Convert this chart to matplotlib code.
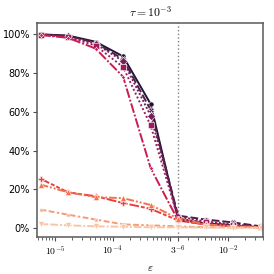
import numpy as np
import matplotlib
matplotlib.use("Agg")
import matplotlib.pyplot as plt
from matplotlib.ticker import PercentFormatter, LogLocator, NullFormatter
import seaborn as sns

plt.rcParams['mathtext.fontset'] = 'cm'

# epsilon grid: 3^-11 ... 3^-3
k = np.arange(11, 2, -1)
eps = 3.0 ** (-k)

# success rate (%) for each run
s1 = [99.8, 99.2, 96.0, 88.5, 64.0, 4.5, 2.5, 1.5, 0.5]
s2 = [99.7, 99.0, 95.5, 87.0, 61.0, 6.5, 4.5, 3.0, 1.0]
s3 = [99.6, 98.8, 95.0, 86.0, 58.0, 6.0, 3.5, 2.0, 0.8]
s4 = [99.5, 98.5, 94.0, 83.0, 53.0, 5.0, 3.0, 1.5, 0.5]
s5 = [99.5, 98.0, 92.5, 78.0, 31.0, 4.0, 2.0, 1.0, 0.5]
s6 = [25.5, 18.5, 16.5, 13.0, 10.0, 4.0, 2.0, 1.0, 0.5]
s7 = [22.5, 18.5, 16.0, 15.5, 12.0, 5.0, 2.0, 1.0, 0.5]
s8 = [9.6, 7.0, 4.5, 2.0, 1.5, 1.0, 0.5, 0.5, 0.3]
s9 = [2.2, 1.5, 1.0, 0.8, 0.5, 0.5, 0.4, 0.3, 0.3]
series = [s1, s2, s3, s4, s5, s6, s7, s8, s9]

colors = sns.color_palette("rocket", 9)
markers = ["o", "X", "D", "s", (4, 1, 0), "P", "^", (4, 1, 45), "v"]
dashes = [(None, None), (4, 1.5), (1, 1), (1, 1.2), (5, 1, 1, 1),
          (5, 1, 2, 1, 2, 1), (4, 1, 1, 1, 1, 1), (3, 1.25, 3, 1.25, 1.25, 1.25),
          (4, 1, 4, 1, 1, 1)]

fig, ax = plt.subplots(figsize=(2.74, 2.74), dpi=100)
fig.subplots_adjust(left=0.135, right=0.96, top=0.915, bottom=0.135)

for i, ys in enumerate(series):
    line, = ax.plot(eps, ys, color=colors[i], marker=markers[i], markersize=3.7,
                    markeredgecolor='white', markeredgewidth=0.4, linewidth=1.4)
    if i > 0:
        line.set_dashes(dashes[i])

ax.axvline(3.0 ** -6, color='0.5', linestyle=':', linewidth=1.0, zorder=0)

ax.set_xscale('log')
ax.set_xlim(10 ** -5.31, 10 ** -1.39)
ax.set_ylim(-4.5, 105.5)
ax.set_xticks([1e-5, 1e-4, 1e-3, 3.0 ** -6, 1e-2])
ax.set_xticklabels([r'$10^{-5}$', r'$10^{-4}$', '', r'$3^{-6}$', r'$10^{-2}$'])
ax.xaxis.set_minor_locator(LogLocator(base=10, subs=np.arange(2, 10), numticks=20))
ax.xaxis.set_minor_formatter(NullFormatter())
ax.set_yticks([0, 20, 40, 60, 80, 100])
ax.yaxis.set_major_formatter(PercentFormatter(decimals=0))
ax.tick_params(labelsize=7, length=3, width=0.8, color='0.3', pad=2)
ax.tick_params(which='minor', length=1.8, width=0.6, color='0.3')

for sp in ax.spines.values():
    sp.set_color('0.35')
    sp.set_linewidth(1.1)

ax.set_title(r'$\tau = 10^{-3}$', fontsize=8.5, pad=5)
ax.set_xlabel(r'$\varepsilon$', fontsize=8, labelpad=4)

fig.savefig('out.png', dpi=100)
